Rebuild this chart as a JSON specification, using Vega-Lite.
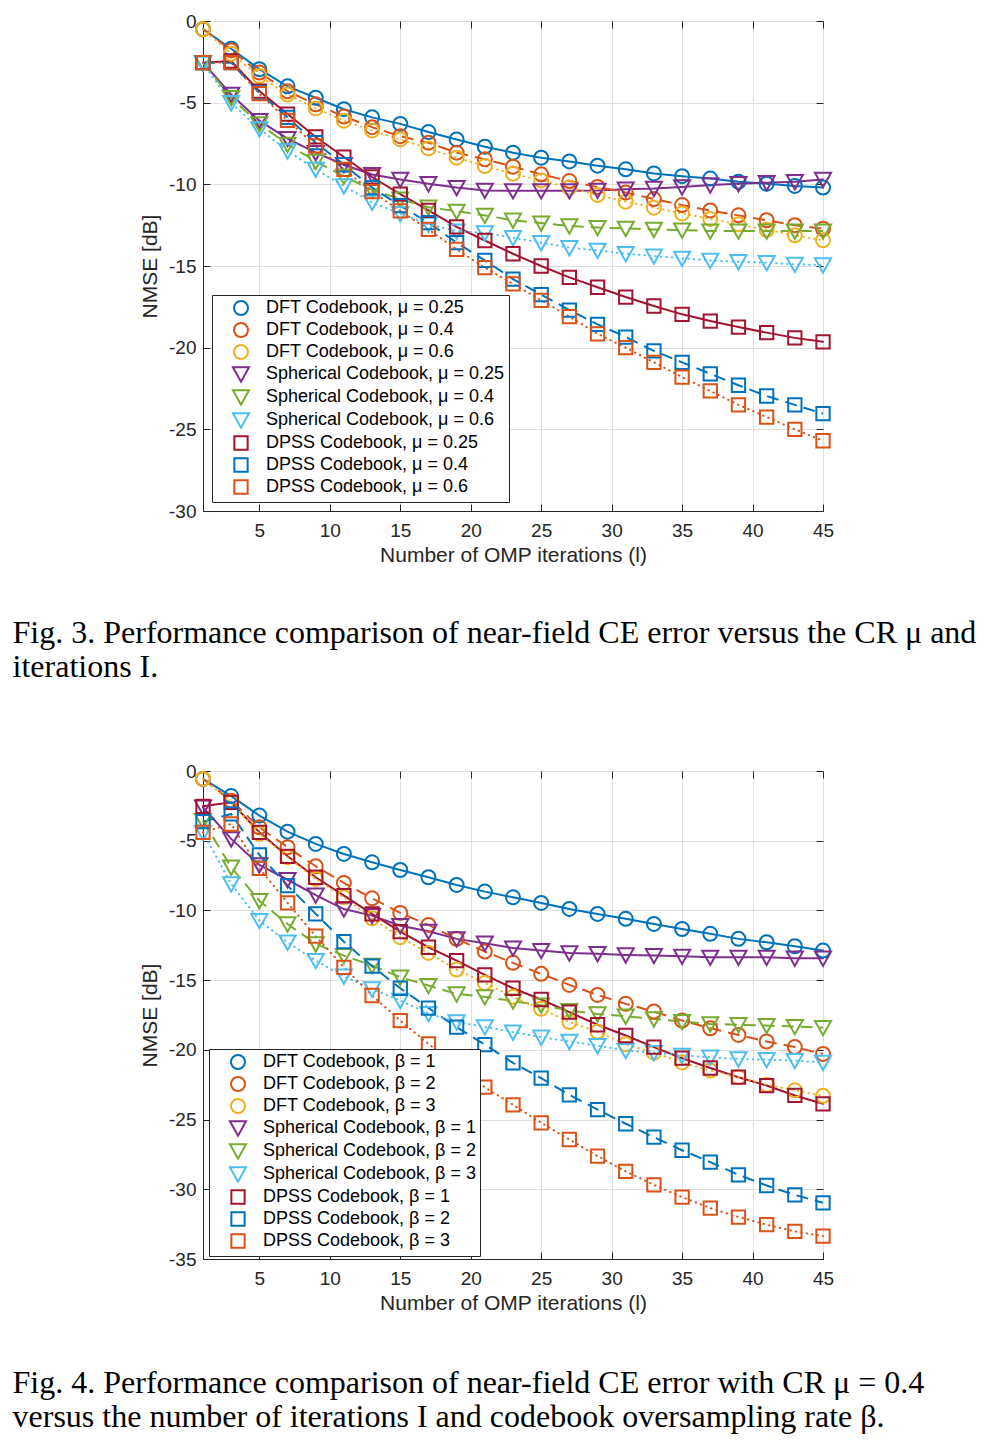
{
  "$schema": "https://vega.github.io/schema/vega-lite/v6.json",
  "background": "white",
  "padding": {"left": 12, "top": 11, "right": 0, "bottom": 0},
  "spacing": 77,
  "resolve": {"scale": {"color": "independent", "shape": "independent"}},
  "config": {
    "view": {"stroke": "#262626", "strokeWidth": 1},
    "axis": {
      "labelFont": "Liberation Sans", "labelFontSize": 19, "labelColor": "#262626",
      "titleFont": "Liberation Sans", "titleFontSize": 21, "titleFontWeight": "normal", "titleColor": "#262626",
      "domainColor": "#262626", "tickColor": "#262626", "tickSize": -7,
      "gridColor": "#dfdfdf", "gridOpacity": 1, "gridWidth": 1
    }
  },
  "datasets": {
    "fig3": [
      {"I":1,"s":"DFT|0.25","v":-0.5},{"I":3,"s":"DFT|0.25","v":-1.7},{"I":5,"s":"DFT|0.25","v":-2.95},{"I":7,"s":"DFT|0.25","v":-4.0},{"I":9,"s":"DFT|0.25","v":-4.7},{"I":11,"s":"DFT|0.25","v":-5.4},{"I":13,"s":"DFT|0.25","v":-5.9},{"I":15,"s":"DFT|0.25","v":-6.3},{"I":17,"s":"DFT|0.25","v":-6.8},{"I":19,"s":"DFT|0.25","v":-7.25},{"I":21,"s":"DFT|0.25","v":-7.7},{"I":23,"s":"DFT|0.25","v":-8.06},{"I":25,"s":"DFT|0.25","v":-8.37},{"I":27,"s":"DFT|0.25","v":-8.6},{"I":29,"s":"DFT|0.25","v":-8.86},{"I":31,"s":"DFT|0.25","v":-9.08},{"I":33,"s":"DFT|0.25","v":-9.33},{"I":35,"s":"DFT|0.25","v":-9.5},{"I":37,"s":"DFT|0.25","v":-9.65},{"I":39,"s":"DFT|0.25","v":-9.84},{"I":41,"s":"DFT|0.25","v":-9.96},{"I":43,"s":"DFT|0.25","v":-10.1},{"I":45,"s":"DFT|0.25","v":-10.2},
      {"I":1,"s":"DFT|0.4","v":-0.5},{"I":3,"s":"DFT|0.4","v":-1.8},{"I":5,"s":"DFT|0.4","v":-3.16},{"I":7,"s":"DFT|0.4","v":-4.3},{"I":9,"s":"DFT|0.4","v":-5.1},{"I":11,"s":"DFT|0.4","v":-5.85},{"I":13,"s":"DFT|0.4","v":-6.5},{"I":15,"s":"DFT|0.4","v":-7.05},{"I":17,"s":"DFT|0.4","v":-7.45},{"I":19,"s":"DFT|0.4","v":-8.06},{"I":21,"s":"DFT|0.4","v":-8.47},{"I":23,"s":"DFT|0.4","v":-8.92},{"I":25,"s":"DFT|0.4","v":-9.39},{"I":27,"s":"DFT|0.4","v":-9.8},{"I":29,"s":"DFT|0.4","v":-10.16},{"I":31,"s":"DFT|0.4","v":-10.5},{"I":33,"s":"DFT|0.4","v":-10.9},{"I":35,"s":"DFT|0.4","v":-11.27},{"I":37,"s":"DFT|0.4","v":-11.6},{"I":39,"s":"DFT|0.4","v":-11.9},{"I":41,"s":"DFT|0.4","v":-12.2},{"I":43,"s":"DFT|0.4","v":-12.5},{"I":45,"s":"DFT|0.4","v":-12.72},
      {"I":1,"s":"DFT|0.6","v":-0.5},{"I":3,"s":"DFT|0.6","v":-2.0},{"I":5,"s":"DFT|0.6","v":-3.37},{"I":7,"s":"DFT|0.6","v":-4.5},{"I":9,"s":"DFT|0.6","v":-5.35},{"I":11,"s":"DFT|0.6","v":-6.1},{"I":13,"s":"DFT|0.6","v":-6.7},{"I":15,"s":"DFT|0.6","v":-7.25},{"I":17,"s":"DFT|0.6","v":-7.8},{"I":19,"s":"DFT|0.6","v":-8.37},{"I":21,"s":"DFT|0.6","v":-8.88},{"I":23,"s":"DFT|0.6","v":-9.35},{"I":25,"s":"DFT|0.6","v":-9.76},{"I":27,"s":"DFT|0.6","v":-10.2},{"I":29,"s":"DFT|0.6","v":-10.65},{"I":31,"s":"DFT|0.6","v":-11.06},{"I":33,"s":"DFT|0.6","v":-11.43},{"I":35,"s":"DFT|0.6","v":-11.78},{"I":37,"s":"DFT|0.6","v":-12.12},{"I":39,"s":"DFT|0.6","v":-12.45},{"I":41,"s":"DFT|0.6","v":-12.78},{"I":43,"s":"DFT|0.6","v":-13.12},{"I":45,"s":"DFT|0.6","v":-13.43},
      {"I":1,"s":"Spherical|0.25","v":-2.55},{"I":3,"s":"Spherical|0.25","v":-4.5},{"I":5,"s":"Spherical|0.25","v":-6.1},{"I":7,"s":"Spherical|0.25","v":-7.2},{"I":9,"s":"Spherical|0.25","v":-8.06},{"I":11,"s":"Spherical|0.25","v":-8.8},{"I":13,"s":"Spherical|0.25","v":-9.4},{"I":15,"s":"Spherical|0.25","v":-9.7},{"I":17,"s":"Spherical|0.25","v":-9.96},{"I":19,"s":"Spherical|0.25","v":-10.2},{"I":21,"s":"Spherical|0.25","v":-10.37},{"I":23,"s":"Spherical|0.25","v":-10.4},{"I":25,"s":"Spherical|0.25","v":-10.4},{"I":27,"s":"Spherical|0.25","v":-10.4},{"I":29,"s":"Spherical|0.25","v":-10.37},{"I":31,"s":"Spherical|0.25","v":-10.3},{"I":33,"s":"Spherical|0.25","v":-10.25},{"I":35,"s":"Spherical|0.25","v":-10.16},{"I":37,"s":"Spherical|0.25","v":-10.04},{"I":39,"s":"Spherical|0.25","v":-9.96},{"I":41,"s":"Spherical|0.25","v":-9.9},{"I":43,"s":"Spherical|0.25","v":-9.84},{"I":45,"s":"Spherical|0.25","v":-9.7},
      {"I":1,"s":"Spherical|0.4","v":-2.55},{"I":3,"s":"Spherical|0.4","v":-4.7},{"I":5,"s":"Spherical|0.4","v":-6.3},{"I":7,"s":"Spherical|0.4","v":-7.55},{"I":9,"s":"Spherical|0.4","v":-8.6},{"I":11,"s":"Spherical|0.4","v":-9.5},{"I":13,"s":"Spherical|0.4","v":-10.35},{"I":15,"s":"Spherical|0.4","v":-10.9},{"I":17,"s":"Spherical|0.4","v":-11.4},{"I":19,"s":"Spherical|0.4","v":-11.65},{"I":21,"s":"Spherical|0.4","v":-11.9},{"I":23,"s":"Spherical|0.4","v":-12.2},{"I":25,"s":"Spherical|0.4","v":-12.37},{"I":27,"s":"Spherical|0.4","v":-12.55},{"I":29,"s":"Spherical|0.4","v":-12.65},{"I":31,"s":"Spherical|0.4","v":-12.7},{"I":33,"s":"Spherical|0.4","v":-12.76},{"I":35,"s":"Spherical|0.4","v":-12.8},{"I":37,"s":"Spherical|0.4","v":-12.86},{"I":39,"s":"Spherical|0.4","v":-12.86},{"I":41,"s":"Spherical|0.4","v":-12.86},{"I":43,"s":"Spherical|0.4","v":-12.86},{"I":45,"s":"Spherical|0.4","v":-12.86},
      {"I":1,"s":"Spherical|0.6","v":-2.6},{"I":3,"s":"Spherical|0.6","v":-5.0},{"I":5,"s":"Spherical|0.6","v":-6.6},{"I":7,"s":"Spherical|0.6","v":-7.96},{"I":9,"s":"Spherical|0.6","v":-9.08},{"I":11,"s":"Spherical|0.6","v":-10.1},{"I":13,"s":"Spherical|0.6","v":-11.1},{"I":15,"s":"Spherical|0.6","v":-11.8},{"I":17,"s":"Spherical|0.6","v":-12.45},{"I":19,"s":"Spherical|0.6","v":-12.86},{"I":21,"s":"Spherical|0.6","v":-12.98},{"I":23,"s":"Spherical|0.6","v":-13.27},{"I":25,"s":"Spherical|0.6","v":-13.57},{"I":27,"s":"Spherical|0.6","v":-13.88},{"I":29,"s":"Spherical|0.6","v":-14.04},{"I":31,"s":"Spherical|0.6","v":-14.25},{"I":33,"s":"Spherical|0.6","v":-14.39},{"I":35,"s":"Spherical|0.6","v":-14.53},{"I":37,"s":"Spherical|0.6","v":-14.66},{"I":39,"s":"Spherical|0.6","v":-14.74},{"I":41,"s":"Spherical|0.6","v":-14.8},{"I":43,"s":"Spherical|0.6","v":-14.9},{"I":45,"s":"Spherical|0.6","v":-14.94},
      {"I":1,"s":"DPSS|0.25","v":-2.55},{"I":3,"s":"DPSS|0.25","v":-2.45},{"I":5,"s":"DPSS|0.25","v":-4.29},{"I":7,"s":"DPSS|0.25","v":-5.7},{"I":9,"s":"DPSS|0.25","v":-7.1},{"I":11,"s":"DPSS|0.25","v":-8.33},{"I":13,"s":"DPSS|0.25","v":-9.55},{"I":15,"s":"DPSS|0.25","v":-10.6},{"I":17,"s":"DPSS|0.25","v":-11.6},{"I":19,"s":"DPSS|0.25","v":-12.6},{"I":21,"s":"DPSS|0.25","v":-13.44},{"I":23,"s":"DPSS|0.25","v":-14.25},{"I":25,"s":"DPSS|0.25","v":-15.0},{"I":27,"s":"DPSS|0.25","v":-15.7},{"I":29,"s":"DPSS|0.25","v":-16.3},{"I":31,"s":"DPSS|0.25","v":-16.9},{"I":33,"s":"DPSS|0.25","v":-17.45},{"I":35,"s":"DPSS|0.25","v":-17.96},{"I":37,"s":"DPSS|0.25","v":-18.37},{"I":39,"s":"DPSS|0.25","v":-18.74},{"I":41,"s":"DPSS|0.25","v":-19.08},{"I":43,"s":"DPSS|0.25","v":-19.4},{"I":45,"s":"DPSS|0.25","v":-19.64},
      {"I":1,"s":"DPSS|0.4","v":-2.55},{"I":3,"s":"DPSS|0.4","v":-2.55},{"I":5,"s":"DPSS|0.4","v":-4.4},{"I":7,"s":"DPSS|0.4","v":-5.9},{"I":9,"s":"DPSS|0.4","v":-7.45},{"I":11,"s":"DPSS|0.4","v":-8.8},{"I":13,"s":"DPSS|0.4","v":-10.2},{"I":15,"s":"DPSS|0.4","v":-11.3},{"I":17,"s":"DPSS|0.4","v":-12.35},{"I":19,"s":"DPSS|0.4","v":-13.57},{"I":21,"s":"DPSS|0.4","v":-14.66},{"I":23,"s":"DPSS|0.4","v":-15.8},{"I":25,"s":"DPSS|0.4","v":-16.75},{"I":27,"s":"DPSS|0.4","v":-17.7},{"I":29,"s":"DPSS|0.4","v":-18.57},{"I":31,"s":"DPSS|0.4","v":-19.35},{"I":33,"s":"DPSS|0.4","v":-20.2},{"I":35,"s":"DPSS|0.4","v":-20.9},{"I":37,"s":"DPSS|0.4","v":-21.6},{"I":39,"s":"DPSS|0.4","v":-22.3},{"I":41,"s":"DPSS|0.4","v":-22.96},{"I":43,"s":"DPSS|0.4","v":-23.5},{"I":45,"s":"DPSS|0.4","v":-24.04},
      {"I":1,"s":"DPSS|0.6","v":-2.55},{"I":3,"s":"DPSS|0.6","v":-2.55},{"I":5,"s":"DPSS|0.6","v":-4.45},{"I":7,"s":"DPSS|0.6","v":-6.08},{"I":9,"s":"DPSS|0.6","v":-7.65},{"I":11,"s":"DPSS|0.6","v":-9.08},{"I":13,"s":"DPSS|0.6","v":-10.45},{"I":15,"s":"DPSS|0.6","v":-11.63},{"I":17,"s":"DPSS|0.6","v":-12.76},{"I":19,"s":"DPSS|0.6","v":-13.98},{"I":21,"s":"DPSS|0.6","v":-15.1},{"I":23,"s":"DPSS|0.6","v":-16.1},{"I":25,"s":"DPSS|0.6","v":-17.1},{"I":27,"s":"DPSS|0.6","v":-18.1},{"I":29,"s":"DPSS|0.6","v":-19.15},{"I":31,"s":"DPSS|0.6","v":-20.0},{"I":33,"s":"DPSS|0.6","v":-20.9},{"I":35,"s":"DPSS|0.6","v":-21.8},{"I":37,"s":"DPSS|0.6","v":-22.65},{"I":39,"s":"DPSS|0.6","v":-23.5},{"I":41,"s":"DPSS|0.6","v":-24.25},{"I":43,"s":"DPSS|0.6","v":-25.0},{"I":45,"s":"DPSS|0.6","v":-25.7}
    ],
    "fig4": [
      {"I":1,"s":"DFT|1","v":-0.57},{"I":3,"s":"DFT|1","v":-1.8},{"I":5,"s":"DFT|1","v":-3.2},{"I":7,"s":"DFT|1","v":-4.35},{"I":9,"s":"DFT|1","v":-5.23},{"I":11,"s":"DFT|1","v":-5.95},{"I":13,"s":"DFT|1","v":-6.55},{"I":15,"s":"DFT|1","v":-7.1},{"I":17,"s":"DFT|1","v":-7.62},{"I":19,"s":"DFT|1","v":-8.17},{"I":21,"s":"DFT|1","v":-8.65},{"I":23,"s":"DFT|1","v":-9.06},{"I":25,"s":"DFT|1","v":-9.46},{"I":27,"s":"DFT|1","v":-9.89},{"I":29,"s":"DFT|1","v":-10.25},{"I":31,"s":"DFT|1","v":-10.6},{"I":33,"s":"DFT|1","v":-10.97},{"I":35,"s":"DFT|1","v":-11.33},{"I":37,"s":"DFT|1","v":-11.68},{"I":39,"s":"DFT|1","v":-12.04},{"I":41,"s":"DFT|1","v":-12.28},{"I":43,"s":"DFT|1","v":-12.57},{"I":45,"s":"DFT|1","v":-12.88},
      {"I":1,"s":"DFT|2","v":-0.57},{"I":3,"s":"DFT|2","v":-2.13},{"I":5,"s":"DFT|2","v":-4.04},{"I":7,"s":"DFT|2","v":-5.47},{"I":9,"s":"DFT|2","v":-6.83},{"I":11,"s":"DFT|2","v":-8.03},{"I":13,"s":"DFT|2","v":-9.13},{"I":15,"s":"DFT|2","v":-10.18},{"I":17,"s":"DFT|2","v":-11.04},{"I":19,"s":"DFT|2","v":-12.04},{"I":21,"s":"DFT|2","v":-12.95},{"I":23,"s":"DFT|2","v":-13.76},{"I":25,"s":"DFT|2","v":-14.55},{"I":27,"s":"DFT|2","v":-15.34},{"I":29,"s":"DFT|2","v":-16.06},{"I":31,"s":"DFT|2","v":-16.7},{"I":33,"s":"DFT|2","v":-17.25},{"I":35,"s":"DFT|2","v":-17.9},{"I":37,"s":"DFT|2","v":-18.45},{"I":39,"s":"DFT|2","v":-18.93},{"I":41,"s":"DFT|2","v":-19.4},{"I":43,"s":"DFT|2","v":-19.8},{"I":45,"s":"DFT|2","v":-20.29},
      {"I":1,"s":"DFT|3","v":-0.57},{"I":3,"s":"DFT|3","v":-2.25},{"I":5,"s":"DFT|3","v":-4.5},{"I":7,"s":"DFT|3","v":-6.19},{"I":9,"s":"DFT|3","v":-7.74},{"I":11,"s":"DFT|3","v":-9.06},{"I":13,"s":"DFT|3","v":-10.56},{"I":15,"s":"DFT|3","v":-11.92},{"I":17,"s":"DFT|3","v":-13.05},{"I":19,"s":"DFT|3","v":-14.24},{"I":21,"s":"DFT|3","v":-15.2},{"I":23,"s":"DFT|3","v":-16.2},{"I":25,"s":"DFT|3","v":-17.06},{"I":27,"s":"DFT|3","v":-18.0},{"I":29,"s":"DFT|3","v":-18.7},{"I":31,"s":"DFT|3","v":-19.6},{"I":33,"s":"DFT|3","v":-20.2},{"I":35,"s":"DFT|3","v":-20.9},{"I":37,"s":"DFT|3","v":-21.48},{"I":39,"s":"DFT|3","v":-21.96},{"I":41,"s":"DFT|3","v":-22.5},{"I":43,"s":"DFT|3","v":-22.9},{"I":45,"s":"DFT|3","v":-23.3},
      {"I":1,"s":"Spherical|1","v":-2.6},{"I":3,"s":"Spherical|1","v":-4.87},{"I":5,"s":"Spherical|1","v":-6.74},{"I":7,"s":"Spherical|1","v":-7.8},{"I":9,"s":"Spherical|1","v":-8.9},{"I":11,"s":"Spherical|1","v":-9.9},{"I":13,"s":"Spherical|1","v":-10.37},{"I":15,"s":"Spherical|1","v":-11.1},{"I":17,"s":"Spherical|1","v":-11.5},{"I":19,"s":"Spherical|1","v":-12.04},{"I":21,"s":"Spherical|1","v":-12.35},{"I":23,"s":"Spherical|1","v":-12.7},{"I":25,"s":"Spherical|1","v":-12.88},{"I":27,"s":"Spherical|1","v":-13.05},{"I":29,"s":"Spherical|1","v":-13.1},{"I":31,"s":"Spherical|1","v":-13.19},{"I":33,"s":"Spherical|1","v":-13.24},{"I":35,"s":"Spherical|1","v":-13.29},{"I":37,"s":"Spherical|1","v":-13.36},{"I":39,"s":"Spherical|1","v":-13.36},{"I":41,"s":"Spherical|1","v":-13.36},{"I":43,"s":"Spherical|1","v":-13.43},{"I":45,"s":"Spherical|1","v":-13.43},
      {"I":1,"s":"Spherical|2","v":-3.56},{"I":3,"s":"Spherical|2","v":-6.9},{"I":5,"s":"Spherical|2","v":-9.3},{"I":7,"s":"Spherical|2","v":-10.97},{"I":9,"s":"Spherical|2","v":-12.4},{"I":11,"s":"Spherical|2","v":-13.24},{"I":13,"s":"Spherical|2","v":-13.95},{"I":15,"s":"Spherical|2","v":-14.79},{"I":17,"s":"Spherical|2","v":-15.39},{"I":19,"s":"Spherical|2","v":-15.99},{"I":21,"s":"Spherical|2","v":-16.2},{"I":23,"s":"Spherical|2","v":-16.5},{"I":25,"s":"Spherical|2","v":-16.8},{"I":27,"s":"Spherical|2","v":-17.18},{"I":29,"s":"Spherical|2","v":-17.42},{"I":31,"s":"Spherical|2","v":-17.59},{"I":33,"s":"Spherical|2","v":-17.78},{"I":35,"s":"Spherical|2","v":-17.97},{"I":37,"s":"Spherical|2","v":-18.14},{"I":39,"s":"Spherical|2","v":-18.2},{"I":41,"s":"Spherical|2","v":-18.26},{"I":43,"s":"Spherical|2","v":-18.33},{"I":45,"s":"Spherical|2","v":-18.4},
      {"I":1,"s":"Spherical|3","v":-4.4},{"I":3,"s":"Spherical|3","v":-8.1},{"I":5,"s":"Spherical|3","v":-10.73},{"I":7,"s":"Spherical|3","v":-12.28},{"I":9,"s":"Spherical|3","v":-13.6},{"I":11,"s":"Spherical|3","v":-14.72},{"I":13,"s":"Spherical|3","v":-15.63},{"I":15,"s":"Spherical|3","v":-16.46},{"I":17,"s":"Spherical|3","v":-17.4},{"I":19,"s":"Spherical|3","v":-18.0},{"I":21,"s":"Spherical|3","v":-18.35},{"I":23,"s":"Spherical|3","v":-18.73},{"I":25,"s":"Spherical|3","v":-19.09},{"I":27,"s":"Spherical|3","v":-19.4},{"I":29,"s":"Spherical|3","v":-19.7},{"I":31,"s":"Spherical|3","v":-20.05},{"I":33,"s":"Spherical|3","v":-20.2},{"I":35,"s":"Spherical|3","v":-20.4},{"I":37,"s":"Spherical|3","v":-20.53},{"I":39,"s":"Spherical|3","v":-20.65},{"I":41,"s":"Spherical|3","v":-20.7},{"I":43,"s":"Spherical|3","v":-20.77},{"I":45,"s":"Spherical|3","v":-20.9},
      {"I":1,"s":"DPSS|1","v":-2.53},{"I":3,"s":"DPSS|1","v":-2.25},{"I":5,"s":"DPSS|1","v":-4.4},{"I":7,"s":"DPSS|1","v":-6.12},{"I":9,"s":"DPSS|1","v":-7.62},{"I":11,"s":"DPSS|1","v":-8.94},{"I":13,"s":"DPSS|1","v":-10.25},{"I":15,"s":"DPSS|1","v":-11.52},{"I":17,"s":"DPSS|1","v":-12.64},{"I":19,"s":"DPSS|1","v":-13.6},{"I":21,"s":"DPSS|1","v":-14.62},{"I":23,"s":"DPSS|1","v":-15.58},{"I":25,"s":"DPSS|1","v":-16.39},{"I":27,"s":"DPSS|1","v":-17.3},{"I":29,"s":"DPSS|1","v":-18.2},{"I":31,"s":"DPSS|1","v":-18.97},{"I":33,"s":"DPSS|1","v":-19.8},{"I":35,"s":"DPSS|1","v":-20.6},{"I":37,"s":"DPSS|1","v":-21.3},{"I":39,"s":"DPSS|1","v":-21.96},{"I":41,"s":"DPSS|1","v":-22.56},{"I":43,"s":"DPSS|1","v":-23.27},{"I":45,"s":"DPSS|1","v":-23.87},
      {"I":1,"s":"DPSS|2","v":-3.63},{"I":3,"s":"DPSS|2","v":-3.08},{"I":5,"s":"DPSS|2","v":-6.02},{"I":7,"s":"DPSS|2","v":-8.22},{"I":9,"s":"DPSS|2","v":-10.25},{"I":11,"s":"DPSS|2","v":-12.24},{"I":13,"s":"DPSS|2","v":-14.0},{"I":15,"s":"DPSS|2","v":-15.58},{"I":17,"s":"DPSS|2","v":-17.0},{"I":19,"s":"DPSS|2","v":-18.37},{"I":21,"s":"DPSS|2","v":-19.63},{"I":23,"s":"DPSS|2","v":-20.93},{"I":25,"s":"DPSS|2","v":-22.03},{"I":27,"s":"DPSS|2","v":-23.23},{"I":29,"s":"DPSS|2","v":-24.28},{"I":31,"s":"DPSS|2","v":-25.3},{"I":33,"s":"DPSS|2","v":-26.26},{"I":35,"s":"DPSS|2","v":-27.2},{"I":37,"s":"DPSS|2","v":-28.05},{"I":39,"s":"DPSS|2","v":-28.96},{"I":41,"s":"DPSS|2","v":-29.73},{"I":43,"s":"DPSS|2","v":-30.4},{"I":45,"s":"DPSS|2","v":-30.97},
      {"I":1,"s":"DPSS|3","v":-4.4},{"I":3,"s":"DPSS|3","v":-3.8},{"I":5,"s":"DPSS|3","v":-6.98},{"I":7,"s":"DPSS|3","v":-9.46},{"I":9,"s":"DPSS|3","v":-11.85},{"I":11,"s":"DPSS|3","v":-14.08},{"I":13,"s":"DPSS|3","v":-16.1},{"I":15,"s":"DPSS|3","v":-17.9},{"I":17,"s":"DPSS|3","v":-19.57},{"I":19,"s":"DPSS|3","v":-21.2},{"I":21,"s":"DPSS|3","v":-22.68},{"I":23,"s":"DPSS|3","v":-23.94},{"I":25,"s":"DPSS|3","v":-25.23},{"I":27,"s":"DPSS|3","v":-26.43},{"I":29,"s":"DPSS|3","v":-27.62},{"I":31,"s":"DPSS|3","v":-28.72},{"I":33,"s":"DPSS|3","v":-29.68},{"I":35,"s":"DPSS|3","v":-30.56},{"I":37,"s":"DPSS|3","v":-31.35},{"I":39,"s":"DPSS|3","v":-31.99},{"I":41,"s":"DPSS|3","v":-32.54},{"I":43,"s":"DPSS|3","v":-33.02},{"I":45,"s":"DPSS|3","v":-33.36}
    ]
  },
  "vconcat": [
    {
      "width": 620, "height": 490,
      "data": {"name": "fig3"},
      "title": {"text": ["Fig. 3.  Performance comparison of near-field CE error versus the CR μ and", "iterations I."], "orient": "bottom", "anchor": "start", "frame": "bounds", "font": "Liberation Serif", "fontSize": 32, "fontWeight": "normal", "color": "black", "lineHeight": 34, "offset": 53, "dx": -127},
      "resolve": {"axis": {"x": "independent", "y": "independent"}},
      "layer": [
        {
          "transform": [{"filter": {"field": "s", "oneOf": ["DFT|0.25", "Spherical|0.25", "DPSS|0.25"]}}],
          "mark": {"type": "line", "strokeWidth": 2, "strokeCap": "round"},
          "encoding": {
            "x": {"field": "I", "type": "quantitative", "scale": {"domain": [1, 45], "nice": false}, "axis": {"values": [5,10,15,20,25,30,35,40,45], "title": "Number of OMP iterations (l)", "labelPadding": 17, "titlePadding": 4, "labelFlush": false}},
            "y": {"field": "v", "type": "quantitative", "scale": {"domain": [-30, 0], "nice": false}, "axis": {"values": [0,-5,-10,-15,-20,-25,-30], "labelExpr": "'' + datum.value", "title": "NMSE [dB]", "labelPadding": 14, "titlePadding": 8, "labelFlush": false}},
            "color": {"field": "s", "type": "nominal", "scale": {"domain": ["DFT|0.25","DFT|0.4","DFT|0.6","Spherical|0.25","Spherical|0.4","Spherical|0.6","DPSS|0.25","DPSS|0.4","DPSS|0.6"], "range": ["#0072BD","#D95319","#EDB120","#7E2F8E","#77AC30","#4DBEEE","#A2142F","#0072BD","#D95319"]},
              "legend": {"orient": "none", "legendX": 9, "legendY": 274, "title": null, "labelExpr": "replace(datum.label,'|',' Codebook, μ = ')", "labelFont": "Liberation Sans", "labelFontSize": 18, "labelColor": "black", "strokeColor": "#262626", "fillColor": "white", "padding": 4, "rowPadding": 0, "symbolSize": 196, "symbolStrokeWidth": 2, "symbolOffset": 16, "labelOffset": 16, "labelLimit": 400}},
            "order": {"field": "I", "type": "quantitative"}
          }
        },
        {
          "transform": [{"filter": {"field": "s", "oneOf": ["DFT|0.4", "Spherical|0.4", "DPSS|0.4"]}}],
          "mark": {"type": "line", "strokeWidth": 2, "strokeDash": [12, 7]},
          "encoding": {
            "x": {"field": "I", "type": "quantitative", "axis": null},
            "y": {"field": "v", "type": "quantitative", "axis": null},
            "color": {"field": "s", "type": "nominal"},
            "order": {"field": "I", "type": "quantitative"}
          }
        },
        {
          "transform": [{"filter": {"field": "s", "oneOf": ["DFT|0.6", "Spherical|0.6", "DPSS|0.6"]}}],
          "mark": {"type": "line", "strokeWidth": 2, "strokeCap": "round", "strokeDash": [0.5, 5]},
          "encoding": {
            "x": {"field": "I", "type": "quantitative", "axis": null},
            "y": {"field": "v", "type": "quantitative", "axis": null},
            "color": {"field": "s", "type": "nominal"},
            "order": {"field": "I", "type": "quantitative"}
          }
        },
        {
          "mark": {"type": "point", "filled": false, "strokeWidth": 2, "size": 196, "opacity": 1},
          "encoding": {
            "x": {"field": "I", "type": "quantitative", "axis": {"orient": "top", "values": [5,10,15,20,25,30,35,40,45], "labels": false, "title": null, "grid": false, "domain": false}},
            "y": {"field": "v", "type": "quantitative", "axis": {"orient": "right", "values": [0,-5,-10,-15,-20,-25,-30], "labels": false, "title": null, "grid": false, "domain": false}},
            "color": {"field": "s", "type": "nominal", "legend": null},
            "shape": {"field": "s", "type": "nominal", "scale": {"domain": ["DFT|0.25","DFT|0.4","DFT|0.6","Spherical|0.25","Spherical|0.4","Spherical|0.6","DPSS|0.25","DPSS|0.4","DPSS|0.6"], "range": ["circle","circle","circle","M-1.15,-0.95L1.15,-0.95L0,1.1Z","M-1.15,-0.95L1.15,-0.95L0,1.1Z","M-1.15,-0.95L1.15,-0.95L0,1.1Z","M-0.95,-0.95L0.95,-0.95L0.95,0.95L-0.95,0.95Z","M-0.95,-0.95L0.95,-0.95L0.95,0.95L-0.95,0.95Z","M-0.95,-0.95L0.95,-0.95L0.95,0.95L-0.95,0.95Z"]}, "legend": null}
          }
        }
      ]
    },
    {
      "width": 620, "height": 488,
      "data": {"name": "fig4"},
      "title": {"text": ["Fig. 4.  Performance comparison of near-field CE error with CR μ = 0.4", "versus the number of iterations I and codebook oversampling rate β."], "orient": "bottom", "anchor": "start", "frame": "bounds", "font": "Liberation Serif", "fontSize": 32, "fontWeight": "normal", "color": "black", "lineHeight": 34, "offset": 55, "dx": -127},
      "resolve": {"axis": {"x": "independent", "y": "independent"}},
      "layer": [
        {
          "transform": [{"filter": {"field": "s", "oneOf": ["DFT|1", "Spherical|1", "DPSS|1"]}}],
          "mark": {"type": "line", "strokeWidth": 2, "strokeCap": "round"},
          "encoding": {
            "x": {"field": "I", "type": "quantitative", "scale": {"domain": [1, 45], "nice": false}, "axis": {"values": [5,10,15,20,25,30,35,40,45], "title": "Number of OMP iterations (l)", "labelPadding": 17, "titlePadding": 4, "labelFlush": false}},
            "y": {"field": "v", "type": "quantitative", "scale": {"domain": [-35, 0], "nice": false}, "axis": {"values": [0,-5,-10,-15,-20,-25,-30,-35], "labelExpr": "'' + datum.value", "title": "NMSE [dB]", "labelPadding": 14, "titlePadding": 8, "labelFlush": false}},
            "color": {"field": "s", "type": "nominal", "scale": {"domain": ["DFT|1","DFT|2","DFT|3","Spherical|1","Spherical|2","Spherical|3","DPSS|1","DPSS|2","DPSS|3"], "range": ["#0072BD","#D95319","#EDB120","#7E2F8E","#77AC30","#4DBEEE","#A2142F","#0072BD","#D95319"]},
              "legend": {"orient": "none", "legendX": 6, "legendY": 278, "title": null, "labelExpr": "replace(datum.label,'|',' Codebook, β = ')", "labelFont": "Liberation Sans", "labelFontSize": 18, "labelColor": "black", "strokeColor": "#262626", "fillColor": "white", "padding": 4, "rowPadding": 0, "symbolSize": 196, "symbolStrokeWidth": 2, "symbolOffset": 16, "labelOffset": 16, "labelLimit": 400}},
            "order": {"field": "I", "type": "quantitative"}
          }
        },
        {
          "transform": [{"filter": {"field": "s", "oneOf": ["DFT|2", "Spherical|2", "DPSS|2"]}}],
          "mark": {"type": "line", "strokeWidth": 2, "strokeDash": [12, 7]},
          "encoding": {
            "x": {"field": "I", "type": "quantitative", "axis": null},
            "y": {"field": "v", "type": "quantitative", "axis": null},
            "color": {"field": "s", "type": "nominal"},
            "order": {"field": "I", "type": "quantitative"}
          }
        },
        {
          "transform": [{"filter": {"field": "s", "oneOf": ["DFT|3", "Spherical|3", "DPSS|3"]}}],
          "mark": {"type": "line", "strokeWidth": 2, "strokeCap": "round", "strokeDash": [0.5, 5]},
          "encoding": {
            "x": {"field": "I", "type": "quantitative", "axis": null},
            "y": {"field": "v", "type": "quantitative", "axis": null},
            "color": {"field": "s", "type": "nominal"},
            "order": {"field": "I", "type": "quantitative"}
          }
        },
        {
          "mark": {"type": "point", "filled": false, "strokeWidth": 2, "size": 196, "opacity": 1},
          "encoding": {
            "x": {"field": "I", "type": "quantitative", "axis": {"orient": "top", "values": [5,10,15,20,25,30,35,40,45], "labels": false, "title": null, "grid": false, "domain": false}},
            "y": {"field": "v", "type": "quantitative", "axis": {"orient": "right", "values": [0,-5,-10,-15,-20,-25,-30,-35], "labels": false, "title": null, "grid": false, "domain": false}},
            "color": {"field": "s", "type": "nominal", "legend": null},
            "shape": {"field": "s", "type": "nominal", "scale": {"domain": ["DFT|1","DFT|2","DFT|3","Spherical|1","Spherical|2","Spherical|3","DPSS|1","DPSS|2","DPSS|3"], "range": ["circle","circle","circle","M-1.15,-0.95L1.15,-0.95L0,1.1Z","M-1.15,-0.95L1.15,-0.95L0,1.1Z","M-1.15,-0.95L1.15,-0.95L0,1.1Z","M-0.95,-0.95L0.95,-0.95L0.95,0.95L-0.95,0.95Z","M-0.95,-0.95L0.95,-0.95L0.95,0.95L-0.95,0.95Z","M-0.95,-0.95L0.95,-0.95L0.95,0.95L-0.95,0.95Z"]}, "legend": null}
          }
        }
      ]
    }
  ]
}
